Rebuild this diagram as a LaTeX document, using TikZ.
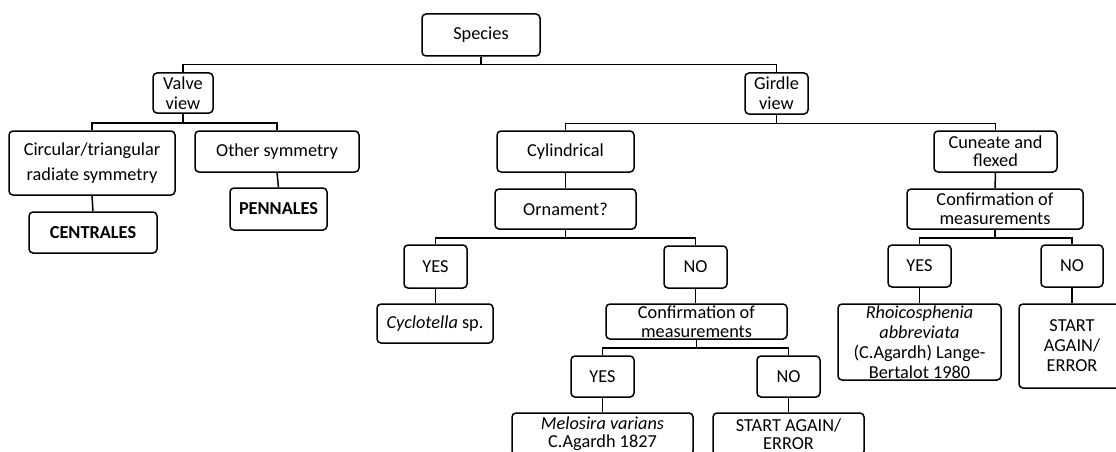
\documentclass[tikz,border=0pt]{standalone}
\usepackage{fontspec}
\setmainfont{Carlito}
\begin{document}
\begin{tikzpicture}[x=1pt,y=-1pt,
  box/.style={draw, line width=1.5pt, rounded corners=4pt, inner sep=0pt,
    align=center, font=\fontsize{18.3}{20}\selectfont},
  wh/.style 2 args={minimum width=#1pt, minimum height=#2pt},
  conn/.style={line width=1.5pt}]
\clip (0,0) rectangle (1116,452);
\fill[white] (0,0) rectangle (1116,452);
% nodes
\node[box, wh={118}{42}] (species) at (481,35) {Species};
\node[box, wh={60}{40}] (valve) at (183,93) {Valve\\view};
\node[box, wh={63}{41}] (girdle) at (776.5,93.5) {Girdle\\view};
\node[box, wh={166}{64}, font=\fontsize{18.3}{25}\selectfont] (circ) at (92,163) {Circular/triangular\\radiate symmetry};
\node[box, wh={164}{41}] (other) at (277,151.5) {Other symmetry};
\node[box, wh={128}{41}, font=\fontsize{18.3}{20}\selectfont\bfseries] (centrales) at (93,232.5) {CENTRALES};
\node[box, wh={97}{42}, font=\fontsize{18.3}{20}\selectfont\bfseries] (pennales) at (278.5,209) {PENNALES};
\node[box, wh={137}{41}] (cyl) at (565.5,151.5) {Cylindrical};
\node[box, wh={141}{40}] (orn) at (565.5,209) {Ornament?};
\node[box, wh={123}{41}, font=\fontsize{18.3}{18}\selectfont] (cun) at (995.5,151.5) {Cuneate and\\flexed};
\node[box, wh={176}{40}, font=\fontsize{18.3}{19}\selectfont] (confR) at (995,209) {Confirmation of\\measurements};
\node[box, wh={63}{43}] (yesA) at (435.5,266.5) {YES};
\node[box, wh={63}{42}] (noA) at (695.5,267) {NO};
\node[box, wh={63}{42}] (yesR) at (919.5,266) {YES};
\node[box, wh={62}{42}] (noR) at (1072,266) {NO};
\node[box, wh={116}{39}] (cyc) at (435,323.5) {\itshape Cyclotella\upshape{} sp.};
\node[box, wh={181}{35}, font=\fontsize{18.3}{19}\selectfont] (confM) at (696.5,321.5) {Confirmation of\\measurements};
\node[box, wh={163}{76}] (rhoi) at (919.5,342) {\itshape Rhoicosphenia\\\itshape abbreviata\\(C.Agardh) Lange-\\Bertalot 1980};
\node[box, wh={106}{84}] (startR) at (1072,346) {START\\AGAIN/\\ERROR};
\node[box, wh={63}{41}] (yesM) at (602.5,376.5) {YES};
\node[box, wh={63}{41}] (noM) at (788.5,376.5) {NO};
\node[box, wh={181}{42}, font=\fontsize{18.3}{18}\selectfont] (melo) at (602.5,434) {\itshape Melosira varians\\C.Agardh 1827};
\node[box, wh={151}{42}, font=\fontsize{18.3}{18}\selectfont] (startM) at (788.5,434) {START AGAIN/\\ERROR};
% connectors
\draw[conn] (species.south) -- ++(0,8) -| (valve.north);
\draw[conn] (species.south) -- ++(0,8) -| (girdle.north);
\draw[conn] (valve.south) -- ++(0,9) -| (circ.north);
\draw[conn] (valve.south) -- ++(0,9) -| (other.north);
\draw[conn] (circ.south) -- (centrales.north);
\draw[conn] (other.south) -- (pennales.north);
\draw[conn] (girdle.south) -- ++(0,8.5) -| (cyl.north);
\draw[conn] (girdle.south) -- ++(0,8.5) -| (cun.north);
\draw[conn] (cyl.south) -- (orn.north);
\draw[conn] (orn.south) -- ++(0,8) -| (yesA.north);
\draw[conn] (orn.south) -- ++(0,8) -| (noA.north);
\draw[conn] (yesA.south) -- (yesA.south |- cyc.north);
\draw[conn] (noA.south) -- (noA.south |- confM.north);
\draw[conn] (confM.south) -- ++(0,8) -| (yesM.north);
\draw[conn] (confM.south) -- ++(0,8) -| (noM.north);
\draw[conn] (yesM.south) -- (melo.north);
\draw[conn] (noM.south) -- (startM.north);
\draw[conn] (cun.south) -- (confR.north);
\draw[conn] (confR.south) -- ++(0,8) -| (yesR.north);
\draw[conn] (confR.south) -- ++(0,8) -| (noR.north);
\draw[conn] (yesR.south) -- (rhoi.north);
\draw[conn] (noR.south) -- (startR.north);
\end{tikzpicture}
\end{document}
